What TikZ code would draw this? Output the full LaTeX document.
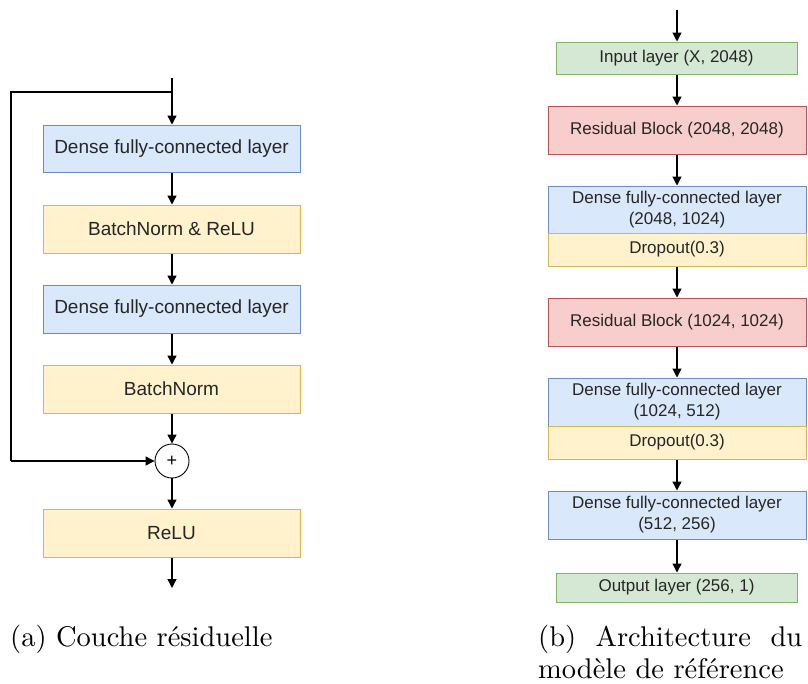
\documentclass[tikz,border=0pt]{standalone}
\usepackage{fontspec}
\newfontfamily\dio{Liberation Sans}
\newfontfamily\capfont{lmroman10-regular}[Extension=.otf]
\usetikzlibrary{arrows.meta}
\definecolor{blueF}{HTML}{DAE8FC}\definecolor{blueD}{HTML}{6C8EBF}
\definecolor{yelF}{HTML}{FFF2CC}\definecolor{yelD}{HTML}{D6B656}
\definecolor{grnF}{HTML}{D5E8D4}\definecolor{grnD}{HTML}{82B366}
\definecolor{redF}{HTML}{F8CECC}\definecolor{redD}{HTML}{B85450}
\tikzset{
  box/.style={draw, line width=1pt, inner sep=0pt, align=center, font=\dio\fontsize{19}{22}\selectfont, text=black!85},
  rbox/.style={box, font=\dio\fontsize{17}{21}\selectfont},
  blue/.style={fill=blueF, draw=blueD},
  yel/.style={fill=yelF, draw=yelD},
  grn/.style={fill=grnF, draw=grnD},
  red/.style={fill=redF, draw=redD},
  arr/.style={line width=1.3pt, -{Triangle[length=9pt,width=9pt]}},
  captext/.style={font=\capfont\fontsize{28.5}{32}\selectfont, inner sep=0pt}
}
\begin{document}
\begin{tikzpicture}[x=1pt,y=-1pt]
\useasboundingbox (0,0) rectangle (808,683);
% left
\node[box,blue,minimum width=257pt,minimum height=47pt] (a1) at (171.5,148.5) {Dense fully-connected layer};
\node[box,yel,minimum width=257pt,minimum height=48pt] (a2) at (171.5,229) {BatchNorm \& ReLU};
\node[box,blue,minimum width=257pt,minimum height=48pt] (a3) at (171.5,309) {Dense fully-connected layer};
\node[box,yel,minimum width=257pt,minimum height=48pt] (a4) at (171.5,389) {BatchNorm};
\node[draw,circle,line width=0.9pt,minimum size=34pt,inner sep=0pt,font=\dio\fontsize{18}{18}\selectfont] (plus) at (172,461) {+};
\node[box,yel,minimum width=257pt,minimum height=48pt] (a5) at (171.5,533) {ReLU};
\coordinate (atop) at (172,78);
\coordinate (asplit) at (172,92);
\coordinate (acorner1) at (11,92);
\coordinate (acorner2) at (11,461);
\coordinate (abot) at (172,588);
\draw[arr] (atop) -- (a1.north -| atop);
\draw[line width=1.3pt] (asplit) -- (acorner1) -- (acorner2);
\draw[arr] (acorner2) -- (plus.west);
\draw[arr] (a1.south -| atop) -- (a2.north -| atop);
\draw[arr] (a2.south -| atop) -- (a3.north -| atop);
\draw[arr] (a3.south -| atop) -- (a4.north -| atop);
\draw[arr] (a4.south -| atop) -- (plus.north);
\draw[arr] (plus.south) -- (a5.north -| atop);
\draw[arr] (a5.south -| atop) -- (abot);
% right
\node[rbox,grn,minimum width=241pt,minimum height=32pt] (in) at (676.5,58) {Input layer (X, 2048)};
\node[rbox,red,minimum width=258pt,minimum height=48pt] (r1) at (677,130) {Residual Block (2048, 2048)};
\node[rbox,blue,minimum width=258pt,minimum height=47pt] (d1) at (677,209.5) {Dense fully-connected layer\\(2048, 1024)};
\node[rbox,yel,minimum width=258pt,minimum height=33pt] (o1) at (677,249.5) {Dropout(0.3)};
\node[rbox,red,minimum width=258pt,minimum height=48pt] (r2) at (677,322) {Residual Block (1024, 1024)};
\node[rbox,blue,minimum width=258pt,minimum height=48pt] (d2) at (677,402) {Dense fully-connected layer\\(1024, 512)};
\node[rbox,yel,minimum width=258pt,minimum height=33pt] (o2) at (677,442.5) {Dropout(0.3)};
\node[rbox,blue,minimum width=258pt,minimum height=48pt] (d3) at (677,515) {Dense fully-connected layer\\(512, 256)};
\node[rbox,grn,minimum width=241pt,minimum height=29pt] (out) at (676.5,587.5) {Output layer (256, 1)};
\coordinate (btop) at (677,10);
\draw[arr] (btop) -- (in.north -| btop);
\draw[arr] (in.south -| btop) -- (r1.north);
\draw[arr] (r1.south) -- (d1.north);
\draw[arr] (o1.south) -- (r2.north);
\draw[arr] (r2.south) -- (d2.north);
\draw[arr] (o2.south) -- (d3.north);
\draw[arr] (d3.south) -- (out.north -| btop);
% captions
\node[captext,anchor=base west] (capa) at (10,646) {(a) Couche résiduelle};
\node[captext,anchor=base west] (capb1) at (538,646) {\makebox[264pt][s]{(b) Architecture du}};
\node[captext,anchor=base west] (capb2) at (538,678) {modèle de référence};
\end{tikzpicture}
\end{document}
